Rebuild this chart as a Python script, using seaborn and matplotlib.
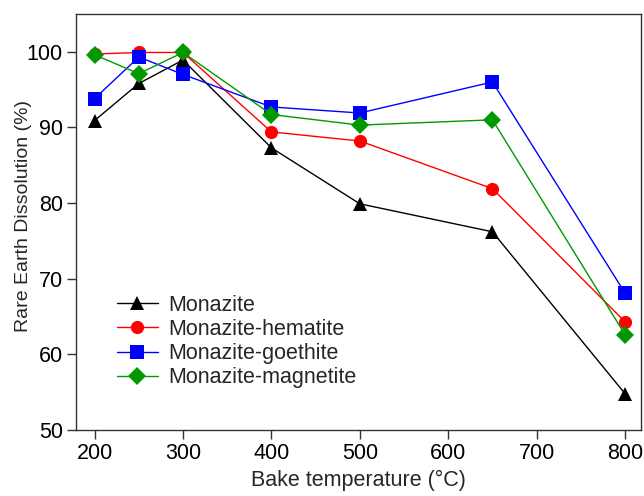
import matplotlib
matplotlib.use("Agg")
import matplotlib.pyplot as plt
import seaborn as sns
import pandas as pd

temperatures = [200, 250, 300, 400, 500, 650, 800]
monazite = [90.9, 95.8, 98.9, 87.3, 79.9, 76.2, 54.8]
monazite_hematite = [99.7, 99.9, 99.9, 89.4, 88.2, 81.9, 64.3]
monazite_goethite = [93.8, 99.3, 97.0, 92.7, 91.9, 96.0, 68.1]
monazite_magnetite = [99.6, 97.1, 99.9, 91.7, 90.3, 91.0, 62.6]

series_names = ["Monazite", "Monazite-hematite", "Monazite-goethite", "Monazite-magnetite"]
series_values = [monazite, monazite_hematite, monazite_goethite, monazite_magnetite]
colors = ["#000000", "#ff0000", "#0000ff", "#009900"]
markers = ["^", "o", "s", "D"]

rows = []
for name, vals in zip(series_names, series_values):
    for t, v in zip(temperatures, vals):
        rows.append({"Temperature": t, "Dissolution": v, "Sample": name})
df = pd.DataFrame(rows)

sns.set_style("ticks")
plt.rcParams["font.family"] = ["Liberation Sans", "DejaVu Sans"]

fig, ax = plt.subplots(figsize=(6.44, 4.96), dpi=100)
fig.subplots_adjust(left=0.118, right=0.9953, bottom=0.133, top=0.972)

sns.lineplot(data=df, x="Temperature", y="Dissolution", hue="Sample", style="Sample",
             hue_order=series_names, style_order=series_names,
             palette=colors, markers=markers, dashes=False,
             markersize=9.5, markeredgewidth=0, linewidth=1, ax=ax)

ax.set_xlim(179, 818)
ax.set_ylim(50, 105)
ax.set_xticks([200, 300, 400, 500, 600, 700, 800])
ax.set_yticks([50, 60, 70, 80, 90, 100])
ax.tick_params(axis="both", labelsize=15.5, direction="out", length=6.5, width=1,
               colors="#333333", labelcolor="black", pad=3)
ax.set_xlabel("Bake temperature (°C)", fontsize=15.5, labelpad=4)
ax.set_ylabel("Rare Earth Dissolution (%)", fontsize=14)
ax.yaxis.set_label_coords(-0.078, 0.515)
for s in ax.spines.values():
    s.set_visible(True)
    s.set_linewidth(1)
    s.set_color("#333333")

ax.legend(loc="lower left", bbox_to_anchor=(0.072, 0.1), frameon=False, fontsize=15.5,
          handlelength=1.9, handletextpad=0.5, labelspacing=0.15, borderaxespad=0,
          borderpad=0)

fig.savefig("out.png", dpi=100)
